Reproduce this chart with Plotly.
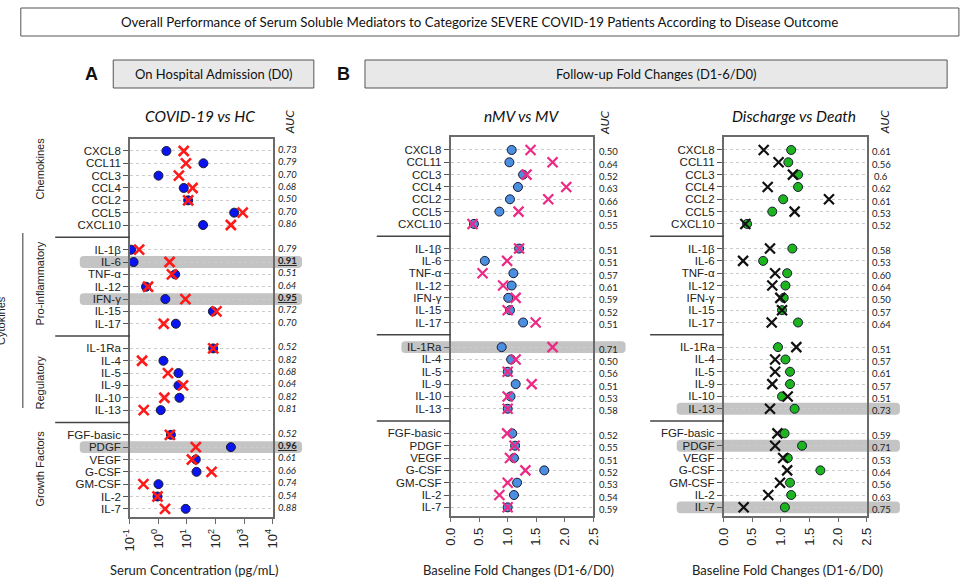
import plotly.graph_objects as go

W, H = 961, 580

# ---------------- data ----------------
categories = ["CXCL8", "CCL11", "CCL3", "CCL4", "CCL2", "CCL5", "CXCL10",
              "IL-1β", "IL-6", "TNF-α", "IL-12", "IFN-γ", "IL-15", "IL-17",
              "IL-1Ra", "IL-4", "IL-5", "IL-9", "IL-10", "IL-13",
              "FGF-basic", "PDGF", "VEGF", "G-CSF", "GM-CSF", "IL-2", "IL-7"]
group_sizes = [7, 7, 6, 7]
group_names = ["Chemokines", "Pro-inflammatory", "Regulatory", "Growth Factors"]

# Panel A: serum concentration (pg/mL) on admission
A_hc = [1.9, 37.7, 1.0, 7.7, 11.0, 452, 36.6,
        0.11, 0.134, 3.85, 0.366, 1.74, 81, 4.07,
        83, 1.49, 5.02, 5.02, 5.44, 1.2,
        2.73, 347, 20.4, 21.6, 1.0, 0.925, 9.0]
A_covid = [7.7, 9.2, 5.2, 15.7, 11.0, 900, 347,
           0.21, 2.45, 2.96, 0.43, 8.8, 108, 1.53,
           83, 0.266, 2.15, 7.28, 1.61, 0.304,
           2.52, 20.4, 14.9, 72.8, 0.296, 0.925, 1.7]
A_auc = ["0.73", "0.79", "0.70", "0.68", "0.50", "0.70", "0.86",
         "0.79", "0.91", "0.51", "0.64", "0.95", "0.72", "0.70",
         "0.52", "0.82", "0.68", "0.64", "0.82", "0.81",
         "0.52", "0.96", "0.61", "0.66", "0.74", "0.54", "0.88"]
A_highlight = ["IL-6", "IFN-γ", "PDGF"]

# Panel B: fold changes nMV vs MV
B_nmv = [1.07, 1.03, 1.27, 1.18, 1.04, 0.855, 0.41,
         1.20, 0.60, 1.10, 1.07, 1.01, 1.04, 1.27,
         0.895, 1.06, 1.00, 1.14, 1.05, 1.00,
         1.08, 1.13, 1.11, 1.64, 1.165, 1.11, 1.00]
B_mv = [1.40, 1.785, 1.33, 2.025, 1.71, 1.19, 0.385,
        1.20, 0.99, 0.56, 0.92, 1.14, 1.00, 1.49,
        1.785, 1.14, 1.00, 1.42, 1.00, 1.00,
        0.99, 1.12, 1.04, 1.31, 1.00, 0.855, 1.00]
B_auc = ["0.50", "0.64", "0.52", "0.63", "0.66", "0.51", "0.55",
         "0.51", "0.51", "0.57", "0.61", "0.59", "0.52", "0.51",
         "0.71", "0.50", "0.56", "0.51", "0.53", "0.58",
         "0.52", "0.55", "0.51", "0.52", "0.53", "0.54", "0.59"]
B_highlight = ["IL-1Ra"]

# Panel C: fold changes Discharge vs Death
C_discharge = [1.18, 1.13, 1.30, 1.30, 1.04, 0.85, 0.41,
               1.20, 0.69, 1.11, 1.08, 1.05, 1.02, 1.30,
               0.95, 1.08, 1.16, 1.16, 1.02, 1.24,
               1.065, 1.37, 1.12, 1.69, 1.16, 1.18, 1.07]
C_death = [0.70, 0.96, 1.21, 0.77, 1.84, 1.24, 0.38,
           0.81, 0.34, 0.90, 0.85, 0.99, 1.02, 0.84,
           1.27, 0.90, 0.90, 0.85, 1.12, 0.81,
           0.94, 0.90, 1.04, 1.11, 0.985, 0.78, 0.35]
C_auc = ["0.61", "0.56", "0.6", "0.62", "0.61", "0.53", "0.52",
         "0.58", "0.53", "0.60", "0.64", "0.50", "0.57", "0.64",
         "0.51", "0.57", "0.61", "0.57", "0.51", "0.73",
         "0.59", "0.71", "0.53", "0.64", "0.56", "0.63", "0.75"]
C_highlight = ["IL-13", "PDGF", "IL-7"]

log_ticks = [0.1, 1, 10, 100, 1000, 10000]
log_ticktext = ["10<sup>-1</sup>", "10<sup>0</sup>", "10<sup>1</sup>",
                "10<sup>2</sup>", "10<sup>3</sup>", "10<sup>4</sup>"]
fold_ticks = [0.0, 0.5, 1.0, 1.5, 2.0, 2.5]

# ---------------- layout helpers ----------------
ARIAL = "Liberation Sans, Arial, sans-serif"
CAL = "Lato, Open Sans, sans-serif"

# row positions: one blank row between groups
pos = []
count = 0
for g, n in enumerate(group_sizes):
    for k in range(n):
        pos.append(count + g)
        count += 1
gap_pos = []
acc = 0
for g, n in enumerate(group_sizes[:-1]):
    acc += n
    gap_pos.append(acc + g)


def px(x):
    return x / W


def py(y):
    return 1 - y / H


def note(x, y, text, size, family=CAL, color="#111", angle=0, **kw):
    d = dict(x=px(x), y=py(y), xref="paper", yref="paper", text=text,
             showarrow=False, xanchor="center", yanchor="middle",
             textangle=angle, font=dict(family=family, size=size, color=color))
    d.update(kw)
    return d


fig = go.Figure()

panels = [
    dict(xa="x", ya="y", xname="xaxis", yname="yaxis",
         circ=A_hc, cross=A_covid, auc=A_auc, hl=A_highlight,
         ccol="#0a14f0", xcol="#ff1a1a", xw=2.6,
         dom_x=(123, 268), dom_y=(139, 517), yr=(29.66, -0.97),
         title="COVID-19 vs HC", title_x=194, auc_x=283, auc_hdr_x=286,
         band=(72, 298), sep=(47, 123), auc_shift=1.5,
         xtitle="Serum Concentration (pg/mL)", xtitle_x=188),
    dict(xa="x2", ya="y2", xname="xaxis2", yname="yaxis2",
         circ=B_nmv, cross=B_mv, auc=B_auc, hl=B_highlight,
         ccol="#4a8fe0", xcol="#ec2a86", xw=2.2,
         dom_x=(449, 594.3), dom_y=(137.3, 515.7), yr=(29.68, -1.03),
         title="nMV vs MV", title_x=521, auc_x=610, auc_hdr_x=606,
         band=(399, 627), sep=(374, 449), auc_shift=-2,
         xtitle="Baseline Fold Changes (D1-6/D0)", xtitle_x=518),
    dict(xa="x3", ya="y3", xname="xaxis3", yname="yaxis3",
         circ=C_discharge, cross=C_death, auc=C_auc, hl=C_highlight,
         ccol="#1db51d", xcol="#111111", xw=2.2,
         dom_x=(726.7, 872.3), dom_y=(137.3, 515.7), yr=(29.68, -1.03),
         title="Discharge vs Death", title_x=798, auc_x=887, auc_hdr_x=891,
         band=(679, 906), sep=(652, 727), auc_shift=-2,
         xtitle="Baseline Fold Changes (D1-6/D0)", xtitle_x=792),
]

shapes = []
annotations = []

for i, p in enumerate(panels):
    fig.add_trace(go.Scatter(
        x=p["circ"], y=pos, mode="markers", xaxis=p["xa"], yaxis=p["ya"],
        marker=dict(symbol="circle", size=9, color=p["ccol"],
                    line=dict(color="#1a1a33", width=1)),
        showlegend=False, hoverinfo="skip"))
    fig.add_trace(go.Scatter(
        x=p["cross"], y=pos, mode="markers", xaxis=p["xa"], yaxis=p["ya"],
        marker=dict(symbol="x-thin", size=10, color=p["xcol"],
                    line=dict(color=p["xcol"], width=p["xw"])),
        showlegend=False, hoverinfo="skip"))

    is_log = i == 0
    xaxis = dict(
        domain=[px(p["dom_x"][0]), px(p["dom_x"][1])], anchor=p["ya"],
        showline=True, mirror=True, linecolor="#6a6a6a", linewidth=1.5,
        ticks="outside", ticklen=5, tickcolor="#6a6a6a", tickwidth=1.2,
        showgrid=False, zeroline=False, tickangle=-90,
        tickfont=dict(family=ARIAL, size=13, color="#222"),
    )
    if is_log:
        xaxis.update(type="log", range=[-1, 4], tickvals=log_ticks, ticktext=log_ticktext)
    else:
        xaxis.update(range=[0, 2.5], tickvals=fold_ticks, tickformat=".1f")
    yaxis = dict(
        domain=[py(p["dom_y"][1]), py(p["dom_y"][0])], anchor=p["xa"],
        range=list(p["yr"]), tickvals=pos, ticktext=categories,
        showline=True, mirror=True, linecolor="#6a6a6a", linewidth=1.5,
        ticks="outside", ticklen=5, tickcolor="#555", tickwidth=1,
        showgrid=True, gridcolor="#cccccc", griddash="dot", gridwidth=1,
        zeroline=False, tickfont=dict(family=ARIAL, size=11.5, color="#222"),
    )
    fig.update_layout(**{p["xname"]: xaxis, p["yname"]: yaxis})

    # highlight bands (rounded)
    for name in p["hl"]:
        r = pos[categories.index(name)]
        x0, x1 = px(p["band"][0]), px(p["band"][1])
        rx, ry, h = 4 / W, 0.3, 0.48
        y0, y1 = r - h, r + h
        path = (f"M{x0+rx},{y0} L{x1-rx},{y0} Q{x1},{y0} {x1},{y0+ry} "
                f"L{x1},{y1-ry} Q{x1},{y1} {x1-rx},{y1} L{x0+rx},{y1} "
                f"Q{x0},{y1} {x0},{y1-ry} L{x0},{y0+ry} Q{x0},{y0} {x0+rx},{y0} Z")
        shapes.append(dict(type="path", path=path, xref="paper", yref=p["ya"],
                           fillcolor="#c4c4c4", line=dict(width=0), layer="below"))

    # group separators in margin
    for gp in gap_pos:
        shapes.append(dict(type="line", xref="paper", yref=p["ya"],
                           x0=px(p["sep"][0]), x1=px(p["sep"][1]), y0=gp, y1=gp,
                           line=dict(color="#444", width=1.5)))

    # AUC values
    for k, (r, a) in enumerate(zip(pos, p["auc"])):
        if i == 0:
            if categories[k] in p["hl"]:
                txt = f"<b><u>{a}</u></b>"
            else:
                txt = f"<i>{a}</i>"
        else:
            txt = a
        annotations.append(dict(
            x=px(p["auc_x"]), y=r, xref="paper", yref=p["ya"], text=txt,
            showarrow=False, xanchor="center", yanchor="middle", yshift=p["auc_shift"],
            font=dict(family=CAL, size=9.5, color="#222")))

    annotations.append(note(p["auc_hdr_x"], 122, "<i>AUC</i>", 12, color="#222", angle=-90))
    annotations.append(note(p["title_x"], 116, f"<i>{p['title']}</i>", 15.5))
    annotations.append(note(p["xtitle_x"], 570, p["xtitle"], 13, color="#222"))

# group labels (panel A)
label_y_px = [168, 283, 382, 468]
for name, yy in zip(group_names, label_y_px):
    annotations.append(note(32, yy, name, 11, family=ARIAL, color="#222", angle=-90))
annotations.append(note(1, 320, "Cytokines", 11, family=ARIAL, color="#222", angle=-90,
                        xshift=-9))
shapes.append(dict(type="line", xref="paper", yref="paper",
                   x0=px(14), x1=px(14), y0=py(233), y1=py(408),
                   line=dict(color="#777", width=1.5)))

# header boxes
shapes.append(dict(type="rect", xref="paper", yref="paper", layer="below",
                   x0=px(12), x1=px(966), y0=py(36), y1=py(8),
                   line=dict(color="#555", width=1), fillcolor="white"))
shapes.append(dict(type="rect", xref="paper", yref="paper", layer="below",
                   x0=px(106), x1=px(310), y0=py(88), y1=py(60),
                   line=dict(color="#555", width=1), fillcolor="#e8e8e8"))
shapes.append(dict(type="rect", xref="paper", yref="paper", layer="below",
                   x0=px(362), x1=px(954), y0=py(88), y1=py(60),
                   line=dict(color="#555", width=1), fillcolor="#e8e8e8"))
annotations += [
    note(478, 22, "Overall Performance of Serum Soluble Mediators to Categorize SEVERE COVID-19 Patients According to Disease Outcome", 13.3),
    note(208, 74, "On Hospital Admission (D0)", 13),
    note(658, 74, "Follow-up Fold Changes (D1-6/D0)", 13),
    note(84, 74, "<b>A</b>", 18, family=ARIAL),
    note(340, 74, "<b>B</b>", 18, family=ARIAL),
]

fig.update_layout(
    width=W, height=H, margin=dict(l=0, r=0, t=0, b=0),
    paper_bgcolor="white", plot_bgcolor="rgba(0,0,0,0)",
    shapes=shapes, annotations=annotations, showlegend=False,
)

fig.write_html("out.html")
